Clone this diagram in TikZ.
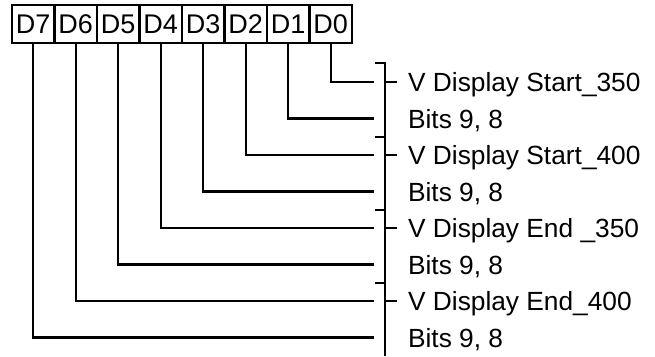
\documentclass[tikz,border=0pt]{standalone}
\usepackage{fontspec}
\setmainfont{Liberation Sans}
\usepackage{tikz}

\tikzset{
    regbox/.style={draw,minimum width=42.5pt,minimum height=38pt,inner sep=0pt,outer sep=0pt,font=\fontsize{27}{27}\selectfont},
    reglabel/.style={anchor=base west,inner sep=0pt,font=\fontsize{26.3}{26.3}\selectfont}
}

\begin{document}
\begin{tikzpicture}[x=1pt,y=-1pt,line width=2.2pt]
        \useasboundingbox (0,0) rectangle (655,356);
        \node[regbox] (d7) at (33.25,24) {D7};
        \node[regbox] (d6) at (75.75,24) {D6};
        \node[regbox] (d5) at (118.25,24) {D5};
        \node[regbox] (d4) at (160.75,24) {D4};
        \node[regbox] (d3) at (203.25,24) {D3};
        \node[regbox] (d2) at (245.75,24) {D2};
        \node[regbox] (d1) at (288.25,24) {D1};
        \node[regbox] (d0) at (330.75,24) {D0};
        \coordinate (e0) at (374,82);
        \coordinate (e1) at (374,118.5);
        \coordinate (e2) at (374,155);
        \coordinate (e3) at (374,191.5);
        \coordinate (e4) at (374,228);
        \coordinate (e5) at (374,264.5);
        \coordinate (e6) at (374,301);
        \coordinate (e7) at (374,337.5);
        \draw (d0.south) |- (e0);
        \draw (d1.south) |- (e1);
        \draw (d2.south) |- (e2);
        \draw (d3.south) |- (e3);
        \draw (d4.south) |- (e4);
        \draw (d5.south) |- (e5);
        \draw (d6.south) |- (e6);
        \draw (d7.south) |- (e7);
        \draw (375,63) -- (385,63) -- (385,356);
        \draw (375,137) -- (385,137);
        \draw (375,210) -- (385,210);
        \draw (375,283) -- (385,283);
        \draw (385,82) -- (397,82);
        \draw (385,155) -- (397,155);
        \draw (385,228) -- (397,228);
        \draw (385,301) -- (397,301);
        \node[reglabel] (l0) at (407,91.5) {V Display Start\_350};
        \node[reglabel] (l1) at (407,128) {Bits 9, 8};
        \node[reglabel] (l2) at (407,164.5) {V Display Start\_400};
        \node[reglabel] (l3) at (407,201) {Bits 9, 8};
        \node[reglabel] (l4) at (407,237.5) {V Display End \_350};
        \node[reglabel] (l5) at (407,274) {Bits 9, 8};
        \node[reglabel] (l6) at (407,310.5) {V Display End\_400};
        \node[reglabel] (l7) at (407,347) {Bits 9, 8};
    \end{tikzpicture}
\end{document}
